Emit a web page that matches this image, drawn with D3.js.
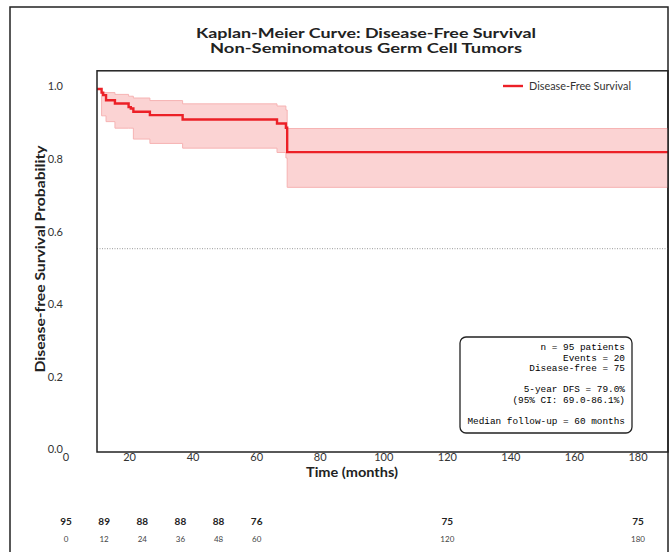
<!DOCTYPE html>
<html>
<head>
<meta charset="utf-8">
<script src="https://cdn.jsdelivr.net/npm/d3@7"></script>
<style>
  html, body { margin: 0; padding: 0; background: #fff; }
  svg { display: block; }
</style>
</head>
<body>
<div id="chart"></div>
<script>
// Kaplan-Meier step data (months, survival, 95% CI)
const stepTimes = [0, 11.2, 11.7, 12.6, 15.4, 19.7, 20.4, 21.2, 26.4, 36.7, 66.4, 69.2, 69.6, 190];
const survival  = [1.0, 0.99, 0.983, 0.969, 0.96, 0.95, 0.946, 0.937, 0.928, 0.916, 0.905, 0.893, 0.826, 0.826];
const ciLower   = [1.0, 0.926, 0.926, 0.91, 0.892, 0.892, 0.892, 0.862, 0.85, 0.837, 0.825, 0.81, 0.729, 0.729];
const ciUpper   = [1.0, 0.99, 0.99, 0.99, 0.985, 0.98, 0.98, 0.975, 0.968, 0.959, 0.953, 0.942, 0.891, 0.891];

const xTicks = [0, 20, 40, 60, 80, 100, 120, 140, 160, 180];
const yTicks = [0.0, 0.2, 0.4, 0.6, 0.8, 1.0];
const refLine = 0.56;

const riskTimes  = [0, 12, 24, 36, 48, 60, 120, 180];
const riskCounts = [95, 89, 88, 88, 88, 76, 75, 75];

const statsLines = [
  'n = 95 patients',
  'Events = 20',
  'Disease-free = 75',
  '',
  '5-year DFS = 79.0%',
  '(95% CI: 69.0-86.1%)',
  '',
  'Median follow-up = 60 months'
];

const W = 669, H = 552;
const box = { left: 97, right: 668, top: 70.8, bottom: 452 };
const sans = 'Lato, "Open Sans", sans-serif';
const mono = '"Liberation Mono", "DejaVu Sans Mono", monospace';
const red = '#ec2027';

const svg = d3.select('#chart').append('svg')
  .attr('width', W).attr('height', H);

const x = d3.scaleLinear().domain([0, 180]).range([66, 638]);
const y = d3.scaleLinear().domain([0, 1.05]).range([box.bottom, box.top]);

// outer figure frame
svg.append('rect')
  .attr('x', 10).attr('y', 7)
  .attr('width', box.right - 10).attr('height', H + 10)
  .attr('fill', 'none').attr('stroke', '#222').attr('stroke-width', 1.5);

// title
const title = svg.append('g').attr('font-family', sans).attr('font-weight', 'bold')
  .attr('font-size', 13).attr('fill', '#222').attr('text-anchor', 'middle');
title.append('text').attr('x', 366).attr('y', 37.5)
  .attr('textLength', 340).attr('lengthAdjust', 'spacingAndGlyphs')
  .text('Kaplan-Meier Curve: Disease-Free Survival');
title.append('text').attr('x', 366).attr('y', 53)
  .attr('textLength', 312).attr('lengthAdjust', 'spacingAndGlyphs')
  .text('Non-Seminomatous Germ Cell Tumors');

// clip to plot area
svg.append('clipPath').attr('id', 'plotClip')
  .append('rect')
  .attr('x', box.left).attr('y', box.top)
  .attr('width', box.right - box.left).attr('height', box.bottom - box.top);

const km = stepTimes.map((t, i) => ({ t, s: survival[i], lo: ciLower[i], hi: ciUpper[i] }));

const plot = svg.append('g').attr('clip-path', 'url(#plotClip)');

// reference line
plot.append('line')
  .attr('x1', box.left).attr('x2', box.right)
  .attr('y1', y(refLine)).attr('y2', y(refLine))
  .attr('stroke', '#999').attr('stroke-width', 1)
  .attr('stroke-dasharray', '1,1.5');

// confidence band
const band = d3.area()
  .curve(d3.curveStepAfter)
  .x(d => x(d.t))
  .y0(d => y(d.lo))
  .y1(d => y(d.hi));

plot.append('path').datum(km)
  .attr('d', band)
  .attr('fill', '#fbd3d3')
  .attr('stroke', '#f6b3b3')
  .attr('stroke-width', 1);

// survival curve
const line = d3.line()
  .curve(d3.curveStepAfter)
  .x(d => x(d.t))
  .y(d => y(d.s));

plot.append('path').datum(km)
  .attr('d', line)
  .attr('fill', 'none')
  .attr('stroke', red)
  .attr('stroke-width', 2.4);

// plot frame
svg.append('rect')
  .attr('x', box.left).attr('y', box.top)
  .attr('width', box.right - box.left).attr('height', box.bottom - box.top)
  .attr('fill', 'none').attr('stroke', '#222').attr('stroke-width', 1.5);

// y tick labels
svg.append('g').selectAll('text').data(yTicks).join('text')
  .attr('x', 63).attr('y', d => y(d) - 2.5)
  .attr('dy', '0.35em')
  .attr('text-anchor', 'end')
  .attr('font-family', sans).attr('font-size', 11).attr('fill', '#333')
  .text(d => d.toFixed(1));

// x tick labels
svg.append('g').selectAll('text').data(xTicks).join('text')
  .attr('x', d => x(d)).attr('y', box.bottom + 1)
  .attr('dy', '0.71em')
  .attr('text-anchor', 'middle')
  .attr('font-family', sans).attr('font-size', 11).attr('fill', '#333')
  .text(d => d);

// axis titles
svg.append('text')
  .attr('x', 352).attr('y', 477)
  .attr('text-anchor', 'middle')
  .attr('font-family', sans).attr('font-weight', 'bold').attr('font-size', 14).attr('fill', '#222')
  .attr('textLength', 92).attr('lengthAdjust', 'spacingAndGlyphs')
  .text('Time (months)');

svg.append('text')
  .attr('transform', 'translate(45,259) rotate(-90)')
  .attr('text-anchor', 'middle')
  .attr('font-family', sans).attr('font-weight', 'bold').attr('font-size', 14).attr('fill', '#222')
  .attr('textLength', 227).attr('lengthAdjust', 'spacingAndGlyphs')
  .text('Disease-free Survival Probability');

// legend
const legend = svg.append('g').attr('transform', 'translate(503,86)');
legend.append('line').attr('x1', 0).attr('x2', 20).attr('y1', 0).attr('y2', 0)
  .attr('stroke', red).attr('stroke-width', 2.4);
legend.append('text').attr('x', 26).attr('y', 0).attr('dy', '0.35em')
  .attr('font-family', sans).attr('font-size', 11).attr('fill', '#333')
  .attr('textLength', 102).attr('lengthAdjust', 'spacingAndGlyphs')
  .text('Disease-Free Survival');

// stats box
const stats = svg.append('g');
stats.append('rect')
  .attr('x', 460).attr('y', 337).attr('width', 172).attr('height', 96)
  .attr('rx', 6).attr('ry', 6)
  .attr('fill', '#fff').attr('stroke', '#222').attr('stroke-width', 1.3);
stats.selectAll('text').data(statsLines).join('text')
  .attr('x', 625).attr('y', (d, i) => 350 + i * 10.6)
  .attr('text-anchor', 'end')
  .attr('font-family', mono).attr('font-size', 9.4).attr('fill', '#000')
  .text(d => d);

// number at risk
const risk = svg.append('g').attr('text-anchor', 'middle').attr('font-family', sans);
risk.selectAll('text.count').data(riskTimes).join('text')
  .attr('class', 'count')
  .attr('x', d => x(d)).attr('y', 525)
  .attr('font-weight', 'bold').attr('font-size', 10).attr('fill', '#222')
  .text((d, i) => riskCounts[i]);
risk.selectAll('text.time').data(riskTimes).join('text')
  .attr('class', 'time')
  .attr('x', d => x(d)).attr('y', 542)
  .attr('font-size', 8).attr('fill', '#444')
  .text(d => d);
</script>
</body>
</html>
